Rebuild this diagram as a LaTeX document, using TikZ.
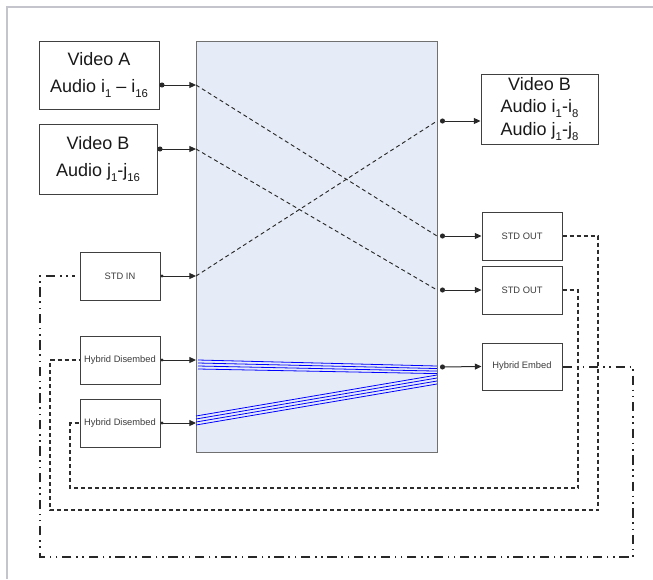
\documentclass[tikz,border=0pt]{standalone}
\usepackage{fontspec}
\setmainfont{Liberation Sans}
\usetikzlibrary{arrows.meta}
\tikzset{every picture/.style={line width=0.75pt}}
\definecolor{routerfill}{RGB}{230,236,247}
\definecolor{routerline}{RGB}{112,112,112}
\definecolor{boxline}{RGB}{64,64,64}
\definecolor{boxtext}{RGB}{60,60,60}
\definecolor{framegray}{RGB}{196,196,204}
\definecolor{wire}{RGB}{40,40,40}
\definecolor{loopgray}{RGB}{45,45,45}
\newcommand{\lowidx}[1]{\raisebox{-0.28em}{\fontsize{8.5}{8.5}\selectfont #1}}

\begin{document}
\begin{tikzpicture}[x=0.75pt,y=0.75pt,yscale=-1,xscale=1,
  srcbox/.style={draw=boxline, fill=white, inner sep=0pt, align=center, text=black!90, font=\fontsize{13.5}{20}\selectfont},
  smallbox/.style={draw=boxline, fill=white, inner sep=0pt, minimum width=60pt, minimum height=36pt, text=boxtext, font=\fontsize{7}{8}\selectfont},
  sig/.style={draw=wire, {Circle[length=3.75pt]}-{Triangle[length=5pt,width=4.5pt]}},
  sigsmall/.style={draw=wire, {Circle[length=2.25pt]}-{Triangle[length=5pt,width=4.5pt]}},
  xpoint/.style={draw=wire, line width=0.7pt, dash pattern=on 3pt off 2.25pt},
  bundle/.style={draw=blue, line width=0.6pt},
  loopline/.style={draw=loopgray, line width=0.85pt, dash pattern=on 3pt off 2.25pt},
  embedloop/.style={draw=wire, line width=1.5pt, dash pattern=on 7pt off 3.5pt on 1.2pt off 3.5pt on 1.2pt off 3.5pt}]
		\useasboundingbox (0,0) rectangle (653,579);
		
		%Straight Lines: frame
		\draw [draw=framegray, line width=2pt] (7,579) -- (7,7) -- (653,7) ;
		
		%Shape: Rectangle (router)
		\node [draw=routerline, fill=routerfill, minimum width=180.75pt, minimum height=308.25pt, inner sep=0pt] (router) at (316.5,246.5) {};
		
		% Text Node
		\node [srcbox, minimum width=90pt, minimum height=51pt] (vidA) at (99,75) {Video A\\Audio i\lowidx{1} -- i\lowidx{16}};
		% Text Node
		\node [srcbox, minimum width=88.5pt, minimum height=52.5pt] (vidB) at (98,159) {Video B\\Audio j\lowidx{1}-j\lowidx{16}};
		% Text Node
		\node [srcbox, minimum width=87.75pt, minimum height=52.5pt, font=\fontsize{13.5}{17}\selectfont] (vidBout) at (539.5,109) {Video B\\Audio i\lowidx{1}-i\lowidx{8}\\Audio j\lowidx{1}-j\lowidx{8}};
		% Text Node
		\node [smallbox] (stdin) at (120,276) {STD IN};
		% Text Node
		\node [smallbox] (hdisA) at (120,360) {Hybrid Disembed};
		% Text Node
		\node [smallbox] (hdisB) at (120,423) {Hybrid Disembed};
		% Text Node
		\node [smallbox] (stdoutA) at (522,236) {STD OUT};
		% Text Node
		\node [smallbox] (stdoutB) at (522,290) {STD OUT};
		% Text Node
		\node [smallbox, minimum height=35.25pt] (hemb) at (522,366.5) {Hybrid Embed};
		
		% router ports
		\coordinate (inA) at (196,85);
		\coordinate (inB) at (196,149);
		\coordinate (inC) at (196,276);
		\coordinate (inD) at (196,360);
		\coordinate (inE) at (196,423);
		\coordinate (outB) at (437,121);
		\coordinate (outA) at (437,236);
		\coordinate (outC) at (437,290);
		\coordinate (outH) at (437,367);
		
		%Straight Lines: inputs
		\draw [sig] (inA -| vidA.east) -- (inA) ;
		\draw [sig] (inB -| vidB.east) -- (inB) ;
		\draw [sigsmall] (stdin.east) -- (inC) ;
		\draw [sigsmall] (hdisA.east) -- (inD) ;
		\draw [sigsmall] (hdisB.east) -- (inE) ;
		
		%Straight Lines: outputs
		\draw [sig] ([xshift=2.25pt]outB) -- (outB -| vidBout.west) ;
		\draw [sig] ([xshift=2.25pt]outA) -- (stdoutA.west) ;
		\draw [sig] ([xshift=2.25pt]outC) -- (stdoutB.west) ;
		\draw [sig] ([xshift=2.25pt]outH) -- (hemb.west) ;
		
		%Straight Lines: crosspoints
		\draw [xpoint] (inA) -- (outA) ;
		\draw [xpoint] (inB) -- (outC) ;
		\draw [xpoint] (inC) -- (outB) ;
		
		%Straight Lines: audio bundles (yshift runs down the page here)
		\foreach \k in {0,...,3} {
			\draw [bundle] ([xshift=1.5pt,yshift=\k*2.25pt]inD) -- ([yshift=-0.75pt+\k*1.9pt]outH) ;
			\draw [bundle] ([yshift=-5.25pt+\k*2.25pt]inE) -- ([yshift=6pt+\k*2.25pt]outH) ;
		}
		
		% loop back
		\coordinate (lpA) at (598,510);
		\coordinate (lpB) at (50,510);
		\coordinate (lpC) at (578,488);
		\coordinate (lpD) at (70,488);
		\coordinate (lpE) at (633,557);
		\coordinate (lpF) at (40,557);
		\draw [loopline] (stdoutA.east) -| (lpA) -- (lpB) |- (hdisA.west) ;
		\draw [loopline] (stdoutB.east) -| (lpC) -- (lpD) |- (hdisB.west) ;
		\draw [embedloop] (hemb.east) -| (lpE) -- (lpF) |- ([xshift=-3.75pt]stdin.west) ;
		
\end{tikzpicture}
\end{document}
